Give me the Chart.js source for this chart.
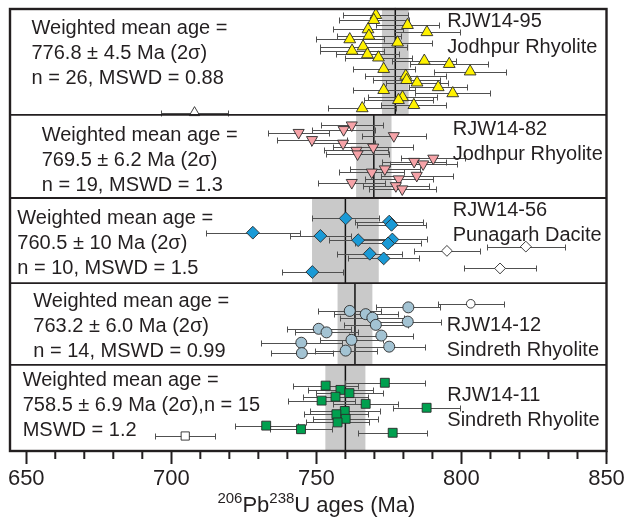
<!DOCTYPE html>
<html><head><meta charset="utf-8">
<script src="https://cdn.jsdelivr.net/npm/chart.js@4.4.1/dist/chart.umd.min.js"></script>
<style>html,body{margin:0;padding:0;background:#fff}#wrap{width:627px;height:523px}</style>
</head><body><div id="wrap"><canvas id="c" width="627" height="523"></canvas></div>
<script>
const FONT = '"Liberation Sans", Arial, Helvetica, sans-serif';
const INK = '#231f20';

// axis ticks
const majorTicks = [650, 700, 750, 800, 850];
const minorTicks = [660, 670, 680, 690, 710, 720, 730, 740, 760, 770, 780, 790, 810, 820, 830, 840];

// panel layout in row units (top to bottom)
const panelEdges = [0, 29.95, 53.2, 77, 99.9, 124];

const sampleNames = ['RJW14-95', 'RJW14-82', 'RJW14-56', 'RJW14-12', 'RJW14-11'];
const rockNames = ['Jodhpur Rhyolite', 'Jodhpur Rhyolite', 'Punagarh Dacite', 'Sindreth Rhyolite', 'Sindreth Rhyolite'];
const meanTexts = [
  ['Weighted mean age =', '776.8 \u00b1 4.5 Ma (2\u03c3)', 'n = 26, MSWD = 0.88'],
  ['Weighted mean age =', '769.5 \u00b1 6.2 Ma (2\u03c3)', 'n = 19, MSWD = 1.3'],
  ['Weighted mean age =', '760.5 \u00b1 10 Ma (2\u03c3)', 'n = 10, MSWD = 1.5'],
  ['Weighted mean age =', '763.2 \u00b1 6.0 Ma (2\u03c3)', 'n = 14, MSWD = 0.99'],
  ['Weighted mean age =', '758.5 \u00b1 6.9 Ma (2\u03c3),n = 15', 'MSWD = 1.2']
];
// weighted mean bands as drawn
const bandCenter = [777.2, 769.8, 760.0, 763.3, 760.0];
const bandHalf = [4.6, 6.1, 11.5, 6.0, 6.9];

// RJW14-95
const p1Age = [770.5, 769.8, 781.4, 767.8, 788.1, 768.1, 761.5, 778.0, 766.1, 762.3, 767.6, 771.4, 787.2, 795.8, 773.2, 803.0, 780.8, 781.1, 784.7, 792.0, 773.2, 797.0, 779.7, 778.3, 783.6, 765.8];
const p1Err = [11.2, 12, 10.7, 12, 11.5, 11, 11.8, 11.8, 15, 11, 11, 11.5, 11, 13.5, 10.7, 12.5, 14, 11.5, 10.7, 10, 10.7, 13, 12, 11.8, 11.2, 11.7];
const p1Row = [2.0, 3.4, 4.8, 6.0, 6.8, 7.8, 8.8, 9.7, 10.8, 12.0, 13.0, 13.9, 14.8, 15.7, 17.1, 17.8, 19.0, 20.2, 20.9, 22.2, 23.0, 23.9, 25.0, 25.8, 27.2, 28.1];
const p1OutAge = [708.0], p1OutErr = [11.7], p1OutRow = [29.3];

// RJW14-82
const p2Age = [762.2, 759.4, 743.9, 776.7, 748.5, 759.2, 769.6, 763.8, 764.2, 790.3, 783.7, 786.8, 773.6, 769.1, 784.6, 778.4, 762.2, 777.4, 779.6];
const p2Err = [10.6, 10.8, 10.6, 11, 12, 11, 13.8, 11, 10.8, 11, 11, 11.5, 12, 11.2, 12.4, 11.7, 11.5, 11.5, 11.5];
const p2Row = [32.8, 34.1, 34.9, 35.8, 36.9, 37.9, 39.0, 39.9, 40.9, 42.1, 43.0, 43.7, 45.1, 46.0, 46.9, 47.9, 48.9, 49.8, 50.7];

// RJW14-56
const p3Age = [760.1, 775.1, 775.9, 728.1, 751.4, 764.4, 776.2, 774.7, 768.4, 773.2, 748.6];
const p3Err = [11.5, 11.8, 11.8, 16.2, 10.6, 10.2, 11.8, 11.5, 11.2, 12.3, 10.6];
const p3Row = [58.9, 59.8, 60.7, 62.9, 63.8, 65.0, 64.8, 65.9, 68.8, 70.1, 73.9];
const p3OutAge = [822.2, 795.0, 813.3], p3OutErr = [13.5, 11.4, 12.4], p3OutRow = [66.8, 68.0, 72.9];

// RJW14-12
const p4Age = [781.7, 761.5, 767.0, 769.3, 781.5, 770.5, 750.8, 753.5, 772.4, 762.1, 744.8, 775.1, 760.1, 745.0];
const p4Err = [11, 10.8, 11, 11, 11.4, 11, 11, 11, 11, 11, 14, 12.2, 10.7, 10.7];
const p4Row = [83.8, 84.8, 85.7, 86.7, 87.8, 88.7, 89.8, 90.8, 91.7, 92.9, 93.7, 94.8, 95.9, 96.6];
const p4OutAge = [803.2], p4OutErr = [11.4], p4OutRow = [82.8];

// RJW14-11
const p5Age = [773.6, 753.2, 758.3, 761.4, 756.6, 751.8, 767.0, 788.0, 759.8, 756.9, 760.1, 757.3, 732.7, 744.7, 776.3];
const p5Err = [13.8, 11.3, 11.2, 11.5, 11.2, 11.5, 11.2, 11.5, 12, 11, 11.2, 11, 10.8, 10.8, 12];
const p5Row = [104.9, 105.7, 106.9, 107.8, 108.8, 109.9, 110.8, 111.9, 112.8, 113.7, 115.0, 116.0, 116.9, 117.9, 118.9];
const p5OutAge = [704.8], p5OutErr = [10.4], p5OutRow = [119.8];

function pts(a, e, r) { return a.map((v, i) => ({x: v, y: r[i], e: e[i]})); }
function ds(data, style, radius, fill, rot) {
  return {data, pointStyle: style, pointRadius: radius, pointHoverRadius: radius, rotation: rot || 0,
    backgroundColor: fill, borderColor: '#2a2a2a', borderWidth: 0.9, showLine: false};
}
const datasets = [
  ds(pts(p1OutAge, p1OutErr, p1OutRow), 'triangle', 6, '#ffffff'),
  ds(pts(p1Age, p1Err, p1Row), 'triangle', 6.8, '#fff200'),
  ds(pts(p2Age, p2Err, p2Row), 'triangle', 6.4, '#f6a3a8', 180),
  ds(pts(p3OutAge, p3OutErr, p3OutRow), 'rectRot', 5.4, '#ffffff'),
  ds(pts(p3Age, p3Err, p3Row), 'rectRot', 6.4, '#1a9ad6'),
  ds(pts(p4OutAge, p4OutErr, p4OutRow), 'circle', 4.3, '#ffffff'),
  ds(pts(p4Age, p4Err, p4Row), 'circle', 5.5, '#a3c3d3'),
  ds(pts(p5OutAge, p5OutErr, p5OutRow), 'rect', 5.8, '#ffffff'),
  ds(pts(p5Age, p5Err, p5Row), 'rect', 6.3, '#00a04f')
];

const leftX = [31.5, 41.7, 17.3, 33.3, 22.7];
const leftY = [28, 135, 218.5, 301, 380.5];
const rightX = [447.3, 452.7, 452.7, 446.7, 447.3];
const rightY = [21.7, 129.3, 210, 325, 395];

const decor = {
  id: 'decor',
  beforeDatasetsDraw(chart) {
    const {ctx, chartArea: a, scales: {x, y}} = chart;
    ctx.save();
    for (let i = 0; i < 5; i++) {
      const y0 = y.getPixelForValue(panelEdges[i]), y1 = y.getPixelForValue(panelEdges[i + 1]);
      const xl = x.getPixelForValue(bandCenter[i] - bandHalf[i]);
      const xr = x.getPixelForValue(bandCenter[i] + bandHalf[i]);
      ctx.fillStyle = '#c9c9c9';
      ctx.fillRect(xl, y0, xr - xl, y1 - y0);
    }
    ctx.strokeStyle = '#111';
    ctx.lineWidth = 1.5;
    for (let i = 0; i < 5; i++) {
      const y0 = y.getPixelForValue(panelEdges[i]), y1 = y.getPixelForValue(panelEdges[i + 1]);
      const xm = x.getPixelForValue(bandCenter[i]);
      ctx.beginPath(); ctx.moveTo(xm, y0); ctx.lineTo(xm, y1); ctx.stroke();
    }
    ctx.strokeStyle = '#505050';
    ctx.lineWidth = 1;
    chart.data.datasets.forEach(d => {
      d.data.forEach(p => {
        const py = Math.round(y.getPixelForValue(p.y)) + 0.5;
        const xl = Math.round(x.getPixelForValue(p.x - p.e)) + 0.5;
        const xr = Math.round(x.getPixelForValue(p.x + p.e)) + 0.5;
        ctx.beginPath();
        ctx.moveTo(xl, py); ctx.lineTo(xr, py);
        ctx.moveTo(xl, py - 3); ctx.lineTo(xl, py + 3);
        ctx.moveTo(xr, py - 3); ctx.lineTo(xr, py + 3);
        ctx.stroke();
      });
    });
    ctx.restore();
  },
  afterDraw(chart) {
    const {ctx, chartArea: a, scales: {x, y}} = chart;
    ctx.save();
    ctx.strokeStyle = INK;
    ctx.lineWidth = 1.8;
    for (let i = 1; i < 5; i++) {
      const yy = y.getPixelForValue(panelEdges[i]);
      ctx.beginPath(); ctx.moveTo(a.left, yy); ctx.lineTo(a.right, yy); ctx.stroke();
    }
    ctx.lineWidth = 2.4;
    ctx.strokeRect(a.left, a.top, a.right - a.left, a.bottom - a.top);
    // minor ticks
    ctx.lineWidth = 2;
    minorTicks.forEach(v => {
      const px = x.getPixelForValue(v);
      ctx.beginPath(); ctx.moveTo(px, a.bottom); ctx.lineTo(px, a.bottom + 8); ctx.stroke();
    });
    // texts
    ctx.fillStyle = INK;
    ctx.font = '20px ' + FONT;
    ctx.textBaseline = 'middle';
    ctx.textAlign = 'left';
    for (let i = 0; i < 5; i++) {
      meanTexts[i].forEach((t, k) => ctx.fillText(t, leftX[i], leftY[i] + k * 25.2));
      ctx.fillText(sampleNames[i], rightX[i], rightY[i]);
      ctx.fillText(rockNames[i], rightX[i], rightY[i] + 25.5);
    }
    // axis title with superscripts
    const parts = [['206', true], ['Pb', false], ['238', true], ['U ages (Ma)', false]];
    const big = '22px ' + FONT, small = '15px ' + FONT;
    let total = 0;
    parts.forEach(p => { ctx.font = p[1] ? small : big; total += ctx.measureText(p[0]).width; });
    let cx = (x.getPixelForValue(650) + x.getPixelForValue(850)) / 2 - total / 2;
    const base = 512;
    ctx.textBaseline = 'alphabetic';
    parts.forEach(p => {
      ctx.font = p[1] ? small : big;
      ctx.fillText(p[0], cx, p[1] ? base - 9 : base);
      cx += ctx.measureText(p[0]).width;
    });
    ctx.restore();
  }
};

new Chart(document.getElementById('c'), {
  type: 'scatter',
  data: {datasets},
  options: {
    responsive: false,
    devicePixelRatio: 1,
    animation: false,
    events: [],
    layout: {padding: {left: 10, right: 20.5, top: 9, bottom: 0}},
    plugins: {legend: {display: false}, tooltip: {enabled: false}},
    scales: {
      x: {
        type: 'linear', min: 644.4, max: 850,
        afterBuildTicks: s => { s.ticks = majorTicks.map(v => ({value: v})); },
        afterFit: s => { s.height = 72; },
        ticks: {autoSkip: false, maxRotation: 0, padding: 2, color: INK,
          font: {size: 22, family: FONT}, callback: v => String(v)},
        grid: {display: true, drawOnChartArea: false, drawTicks: true, tickLength: 13,
          tickColor: INK, tickWidth: 2},
        border: {display: false}
      },
      y: {type: 'linear', min: 0.3, max: 124, reverse: true, display: false}
    }
  },
  plugins: [decor]
});
</script></body></html>
